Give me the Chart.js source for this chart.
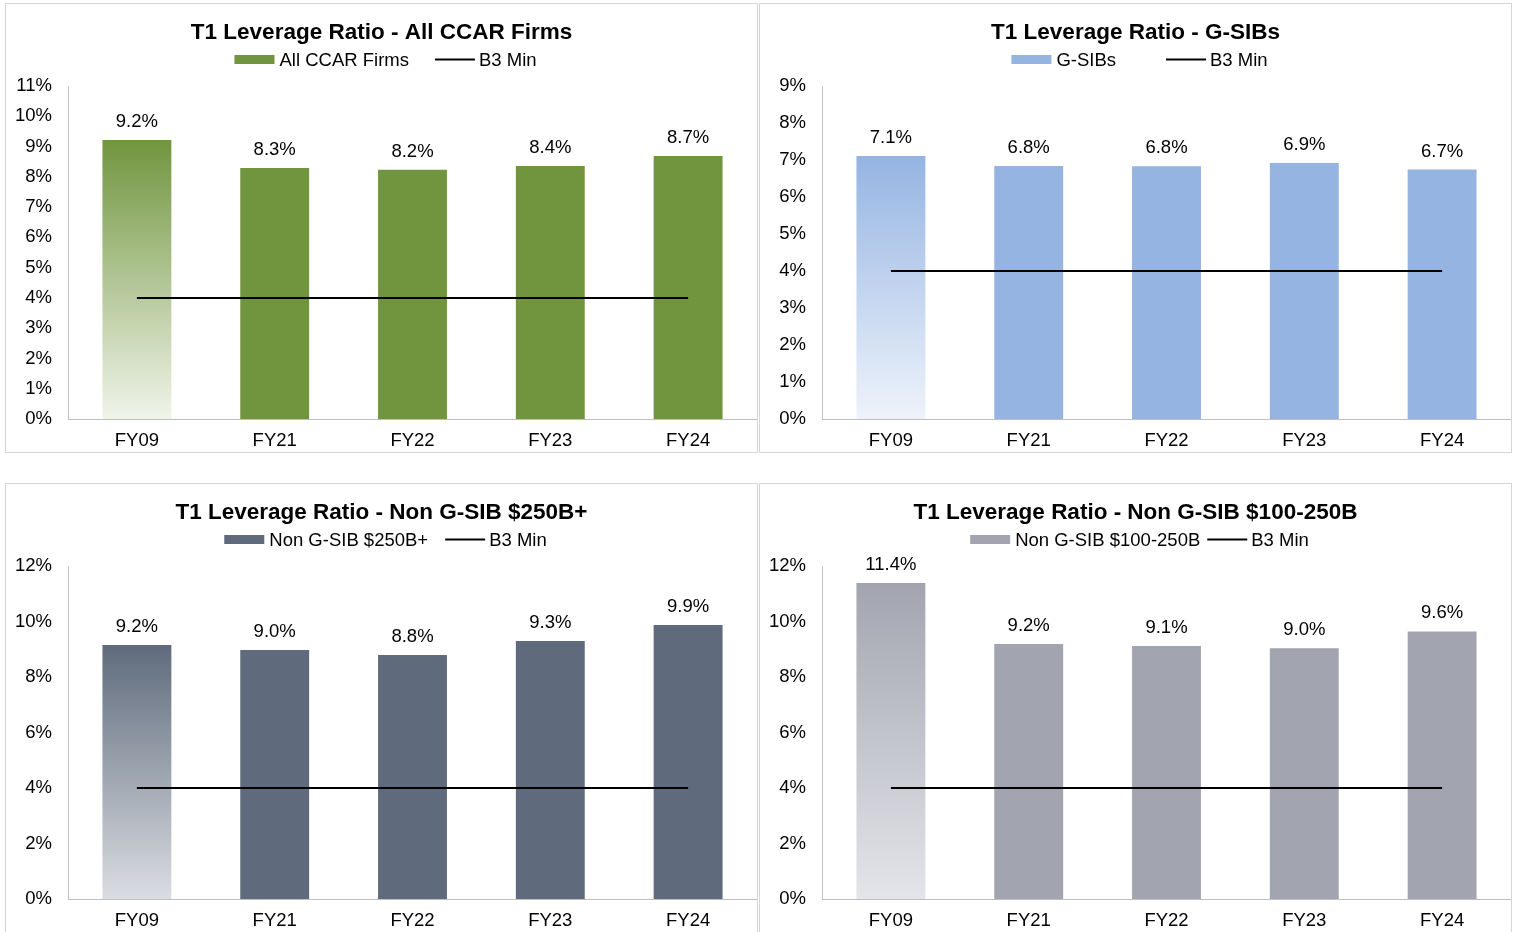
<!DOCTYPE html>
<html>
<head>
<meta charset="utf-8">
<script src="https://cdn.jsdelivr.net/npm/chart.js@4.4.0/dist/chart.umd.min.js"></script>
<style>
  body { margin: 0; background: #fff; width: 1517px; height: 932px; overflow: hidden; position: relative; }
  .panel { position: absolute; width: 751px; height: 448px; border: 1px solid #d6d6d6; background: #fff; }
  .panel canvas { display: block; }
</style>
</head>
<body>
<div class="panel" style="left:5px;top:3px"><canvas id="c1" width="751" height="448"></canvas></div>
<div class="panel" style="left:759px;top:3px"><canvas id="c2" width="751" height="448"></canvas></div>
<div class="panel" style="left:5px;top:483px"><canvas id="c3" width="751" height="448"></canvas></div>
<div class="panel" style="left:759px;top:483px"><canvas id="c4" width="751" height="448"></canvas></div>
<script>
const years = ['FY09', 'FY21', 'FY22', 'FY23', 'FY24'];

const ccarValues = [9.22, 8.29, 8.23, 8.36, 8.69];
const gsibValues = [7.11, 6.84, 6.83, 6.92, 6.74];
const nonGsib250Values = [9.15, 8.97, 8.79, 9.30, 9.87];
const nonGsib100Values = [11.39, 9.19, 9.12, 9.04, 9.64];
const b3Min = [4, 4, 4, 4, 4];

const FONT = '"Liberation Sans", Arial, sans-serif';

// title + legend drawn on the canvas
const header = {
  id: 'header',
  afterDraw(chart, args, opts) {
    const ctx = chart.ctx;
    const cx = chart.width / 2;
    ctx.save();
    ctx.fillStyle = '#000';
    ctx.textAlign = 'center';
    ctx.textBaseline = 'alphabetic';
    ctx.font = 'bold 22.5px ' + FONT;
    ctx.fillText(opts.title, cx, 35);

    ctx.font = '18.5px ' + FONT;
    const w1 = ctx.measureText(opts.label).width;
    const w2 = ctx.measureText('B3 Min').width;
    const total = 40 + 5 + w1 + opts.gap + 40 + 4 + w2;
    let x = cx + 4 - total / 2;
    ctx.textAlign = 'left';
    ctx.fillStyle = opts.color;
    ctx.fillRect(x, 51, 40, 9);
    x += 45;
    ctx.fillStyle = '#000';
    ctx.fillText(opts.label, x, 61.5);
    x += w1 + opts.gap;
    ctx.strokeStyle = '#000';
    ctx.lineWidth = 2;
    ctx.beginPath();
    ctx.moveTo(x, 55.5);
    ctx.lineTo(x + 40, 55.5);
    ctx.stroke();
    x += 44;
    ctx.fillText('B3 Min', x, 61.5);
    ctx.restore();
  }
};

const valueLabels = {
  id: 'valueLabels',
  afterDatasetsDraw(chart) {
    const ctx = chart.ctx;
    const meta = chart.getDatasetMeta(0);
    const data = chart.data.datasets[0].data;
    ctx.save();
    ctx.font = '18.5px ' + FONT;
    ctx.fillStyle = '#000';
    ctx.textAlign = 'center';
    ctx.textBaseline = 'alphabetic';
    meta.data.forEach((bar, i) => {
      ctx.fillText(data[i].toFixed(1) + '%', bar.x, bar.y - 13);
    });
    ctx.restore();
  }
};

function makeChart(id, title, label, values, color, light, yMax, step, gap) {
  new Chart(document.getElementById(id), {
    type: 'bar',
    data: {
      labels: years,
      datasets: [
        {
          label: label,
          data: values,
          order: 2,
          barPercentage: 0.5,
          categoryPercentage: 1,
          backgroundColor: (c) => {
            if (c.dataIndex !== 0 || !c.chart.chartArea) return color;
            const y = c.chart.scales.y;
            const g = c.chart.ctx.createLinearGradient(0, y.getPixelForValue(values[0]), 0, y.getPixelForValue(0));
            g.addColorStop(0, color);
            g.addColorStop(1, light);
            return g;
          }
        },
        {
          type: 'line',
          label: 'B3 Min',
          data: b3Min,
          order: 1,
          borderColor: '#000',
          borderWidth: 2,
          pointRadius: 0,
          fill: false
        }
      ]
    },
    options: {
      responsive: false,
      animation: false,
      layout: { padding: { left: 9, top: 82, right: 0, bottom: 0 } },
      plugins: {
        legend: { display: false },
        tooltip: { enabled: false },
        header: { title: title, label: label, color: color, gap: gap }
      },
      scales: {
        x: {
          grid: { display: false, drawTicks: false },
          border: { color: '#bfbfbf', width: 1 },
          ticks: { color: '#000', font: { family: FONT, size: 18.5 }, padding: 11 },
          afterFit: s => { s.height = 33; }
        },
        y: {
          min: 0,
          max: yMax,
          grid: { display: false, drawTicks: false },
          border: { color: '#bfbfbf', width: 1 },
          ticks: {
            stepSize: step,
            color: '#000',
            font: { family: FONT, size: 18.5 },
            padding: 16,
            callback: v => v + '%'
          },
          afterFit: s => { s.width = 53; }
        }
      }
    },
    plugins: [header, valueLabels]
  });
}

makeChart('c1', 'T1 Leverage Ratio - All CCAR Firms', 'All CCAR Firms', ccarValues,
  'rgb(113,149,62)', 'rgb(240,244,234)', 11, 1, 26);
makeChart('c2', 'T1 Leverage Ratio - G-SIBs', 'G-SIBs', gsibValues,
  'rgb(149,180,226)', 'rgb(238,243,251)', 9, 1, 50);
makeChart('c3', 'T1 Leverage Ratio - Non G-SIB $250B+', 'Non G-SIB $250B+', nonGsib250Values,
  'rgb(95,107,124)', 'rgb(218,221,226)', 12, 2, 17);
makeChart('c4', 'T1 Leverage Ratio - Non G-SIB $100-250B', 'Non G-SIB $100-250B', nonGsib100Values,
  'rgb(162,164,176)', 'rgb(228,229,233)', 12, 2, 7);
</script>
</body>
</html>
